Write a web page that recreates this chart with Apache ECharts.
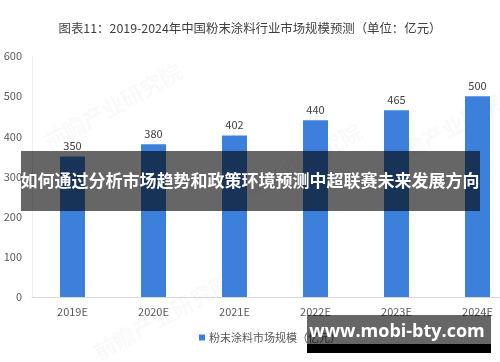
<!DOCTYPE html>
<html>
<head>
<meta charset="utf-8">
<script src="https://cdn.jsdelivr.net/npm/echarts@6/dist/echarts.min.js"></script>
<style>
html,body{margin:0;padding:0;background:#fff;}
#main{width:500px;height:362px;}
</style>
</head>
<body>
<div id="main"></div>
<script>
var categories = ['2019E', '2020E', '2021E', '2022E', '2023E', '2024E'];
var marketSize = [350, 380, 402, 440, 465, 500];
var yTicks = [0, 100, 200, 300, 400, 500, 600];
var seriesName = '粉末涂料市场规模（亿元）';
var titleText = '图表11：2019-2024年中国粉末涂料行业市场规模预测（单位：亿元）';
var overlayText = '如何通过分析市场趋势和政策环境预测中超联赛未来发展方向';
var siteText = 'www.mobi-bty.com';

var chart = echarts.init(document.getElementById('main'), null, {renderer: 'canvas'});
var font = '"Noto Sans CJK SC", "Noto Sans", sans-serif';
chart.setOption({
  animation: false,
  backgroundColor: '#fff',
  title: {
    text: titleText,
    left: 'center',
    top: 17,
    textStyle: {fontFamily: font, fontSize: 12.4, fontWeight: 'normal', color: '#404040'}
  },
  legend: {
    data: [seriesName],
    left: 194,
    top: 327,
    itemWidth: 6,
    itemHeight: 6,
    itemGap: 4,
    icon: 'rect',
    textStyle: {fontFamily: font, fontSize: 11, color: '#595959', padding: [0, 0, 0, -1]}
  },
  grid: {left: 32, width: 486, top: 56, bottom: 65, containLabel: false, outerBoundsMode: 'none'},
  xAxis: {
    type: 'category',
    data: categories,
    axisLine: {show: true, lineStyle: {color: '#d9d9d9'}},
    axisTick: {show: false},
    axisLabel: {fontFamily: font, fontSize: 11, color: '#595959', margin: 9}
  },
  yAxis: {
    type: 'value',
    min: yTicks[0],
    max: yTicks[yTicks.length - 1],
    interval: 100,
    axisLine: {show: true, lineStyle: {color: '#eeeeee'}},
    axisTick: {show: false},
    splitLine: {show: false},
    axisLabel: {fontFamily: font, fontSize: 11, color: '#595959', margin: 10}
  },
  series: [{
    name: seriesName,
    type: 'bar',
    data: marketSize,
    barWidth: 25,
    itemStyle: {color: '#3d80dc'},
    label: {show: true, position: 'top', distance: 5, fontFamily: font, fontSize: 11, color: '#404040'}
  }],
  graphic: [
    {type: 'text', left: 40, top: 60, rotation: 0.5, z: 1, style: {text: '前瞻产业研究院', fontSize: 22, fontWeight: 'bold', fill: 'rgba(0,0,0,0.025)', fontFamily: font}},
    {type: 'text', left: 220, top: 120, rotation: 0.5, z: 1, style: {text: '前瞻产业研究院', fontSize: 22, fontWeight: 'bold', fill: 'rgba(0,0,0,0.025)', fontFamily: font}},
    {type: 'text', left: 380, top: 80, rotation: 0.5, z: 1, style: {text: '前瞻产业研究院', fontSize: 22, fontWeight: 'bold', fill: 'rgba(0,0,0,0.025)', fontFamily: font}},
    {type: 'text', left: 90, top: 270, rotation: 0.5, z: 1, style: {text: '前瞻产业研究院', fontSize: 22, fontWeight: 'bold', fill: 'rgba(0,0,0,0.025)', fontFamily: font}},
    {type: 'rect', shape: {x: 21, y: 151, width: 459, height: 60}, style: {fill: 'rgba(0,0,0,0.6)'}, z: 100},
    {type: 'text', x: 250, y: 181, z: 101, style: {text: overlayText, fill: '#fff', fontSize: 17, fontWeight: 'bold', fontFamily: font, align: 'center', verticalAlign: 'middle'}},
    {type: 'rect', shape: {x: 307, y: 315, width: 184, height: 29}, style: {fill: 'rgba(0,0,0,0.6)'}, z: 100},
    {type: 'rect', shape: {x: 307, y: 344, width: 184, height: 9}, style: {fill: '#000'}, z: 100},
    {type: 'text', x: 397, y: 332, z: 101, style: {text: siteText, fill: '#fff', fontSize: 18, fontWeight: 'bold', fontFamily: '"Open Sans", "Noto Sans", sans-serif', align: 'center', verticalAlign: 'middle'}}
  ]
});
</script>
</body>
</html>
